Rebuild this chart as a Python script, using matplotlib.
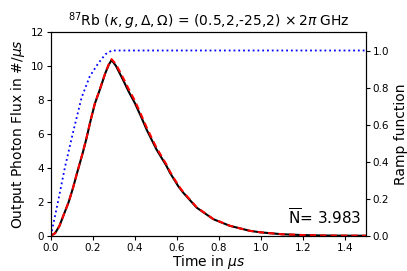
import matplotlib
matplotlib.use("Agg")
import matplotlib.pyplot as plt

# Output photon flux (simulation, black solid)
t_sim = [0.0, 0.02, 0.041, 0.06, 0.084, 0.105, 0.125, 0.15, 0.168, 0.19, 0.21, 0.233,
         0.26, 0.275, 0.289, 0.31, 0.344, 0.37, 0.4, 0.43, 0.456, 0.48, 0.503, 0.551,
         0.567, 0.606, 0.63, 0.694, 0.773, 0.852, 0.948, 1.0, 1.1, 1.2, 1.3, 1.4, 1.5]
flux_sim = [0.0, 0.15, 0.585, 1.2, 1.96, 2.8, 3.71, 4.8, 5.66, 6.83, 7.8, 8.6,
            9.6, 10.05, 10.35, 10.0, 9.17, 8.5, 7.81, 7.0, 6.25, 5.65, 5.08, 4.10,
            3.71, 2.93, 2.54, 1.66, 0.98, 0.585, 0.29, 0.2, 0.09, 0.04, 0.015, 0.006, 0.002]

# Analytic / model curve (red dashed)
t_mod = [0.0, 0.02, 0.041, 0.06, 0.084, 0.105, 0.125, 0.15, 0.168, 0.19, 0.21, 0.233,
         0.26, 0.275, 0.289, 0.31, 0.344, 0.37, 0.4, 0.43, 0.456, 0.48, 0.503, 0.551,
         0.567, 0.606, 0.63, 0.694, 0.773, 0.852, 0.948, 1.0, 1.1, 1.2, 1.3, 1.4, 1.5]
flux_mod = [0.0, 0.15, 0.58, 1.2, 1.96, 2.8, 3.72, 4.82, 5.68, 6.85, 7.82, 8.62,
            9.62, 10.08, 10.4, 10.1, 9.3, 8.65, 7.95, 7.12, 6.38, 5.76, 5.18, 4.18,
            3.78, 2.98, 2.58, 1.68, 0.99, 0.59, 0.29, 0.2, 0.09, 0.04, 0.015, 0.006, 0.002]

# Ramp function (blue dotted)
t_ramp = [0.0, 0.035, 0.067, 0.106, 0.146, 0.185, 0.225, 0.26, 0.29, 0.3, 1.5]
ramp = [0.0, 0.19, 0.37, 0.56, 0.745, 0.86, 0.93, 0.98, 1.0, 1.0, 1.0]

xticks = [0.0, 0.2, 0.4, 0.6, 0.8, 1.0, 1.2, 1.4]
yticks_left = [0, 2, 4, 6, 8, 10, 12]
yticks_right = [0.0, 0.2, 0.4, 0.6, 0.8, 1.0]
nbar_value = 3.983

fig = plt.figure(figsize=(4.07, 2.71), dpi=100)
ax = fig.add_axes([0.125, 0.13, 0.774, 0.752])
ax.plot(t_sim, flux_sim, color="black", lw=1.5)
ax.plot(t_mod, flux_mod, color="red", lw=1.5, ls=(0, (3, 2)))
ax.set_xlim(0, 1.5)
ax.set_ylim(0, 12)
ax.set_xticks(xticks)
ax.set_yticks(yticks_left)
ax.tick_params(labelsize=7.5, length=3, pad=2)
ax.set_xlabel(r"Time in $\mu s$", fontsize=10, labelpad=0)
ax.set_ylabel(r"Output Photon Flux in #/$\mu s$", fontsize=10, labelpad=3)
ax.set_title(r"$^{87}$Rb $(\kappa,g,\Delta,\Omega)$ = (0.5,2,-25,2) $\times\, 2\pi$ GHz",
             fontsize=10, pad=4)
ax.text(0.985, 0.04, r"$\overline{\mathrm{N}}$= %.3f" % nbar_value, transform=ax.transAxes,
        ha="right", va="bottom", fontsize=11)

ax2 = ax.twinx()
ax2.plot(t_ramp, ramp, color="blue", lw=1.3, ls=":")
ax2.set_ylim(0, 1.1)
ax2.set_yticks(yticks_right)
ax2.tick_params(labelsize=7.5, length=3, pad=2)
ax2.set_ylabel("Ramp function", fontsize=10, labelpad=3)

fig.savefig("out.png", dpi=100)
